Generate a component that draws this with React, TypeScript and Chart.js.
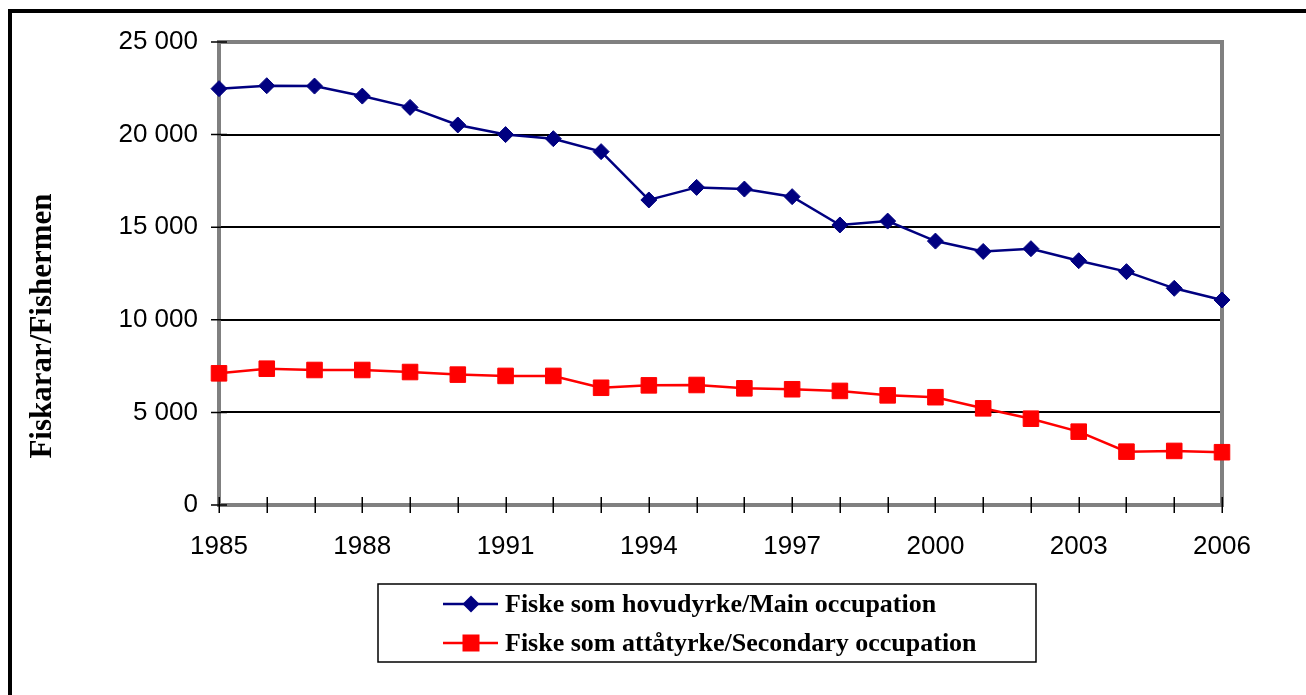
import React, { useEffect, useRef } from 'react';
import { Chart, registerables } from 'chart.js';

Chart.register(...registerables);

const years = [
  '1985', '1986', '1987', '1988', '1989', '1990', '1991', '1992', '1993', '1994', '1995',
  '1996', '1997', '1998', '1999', '2000', '2001', '2002', '2003', '2004', '2005', '2006',
];
const mainOccupation = [
  22480, 22640, 22620, 22080, 21470, 20520, 20000, 19780, 19080, 16470, 17150,
  17060, 16650, 15120, 15330, 14250, 13690, 13840, 13190, 12600, 11700, 11070,
];
const secondaryOccupation = [
  7110, 7360, 7290, 7290, 7180, 7040, 6970, 6970, 6330, 6460, 6480,
  6300, 6250, 6160, 5920, 5820, 5220, 4660, 3960, 2880, 2920, 2850,
];
const shownYearLabels = ['1985', '1988', '1991', '1994', '1997', '2000', '2003', '2006'];
const yMin = 0;
const yMax = 25000;
const yStep = 5000;
const seriesLabels = [
  'Fiske som hovudyrke/Main occupation',
  'Fiske som attåtyrke/Secondary occupation',
];
const yAxisTitle = 'Fiskarar/Fishermen';

const BLUE = '#000080';
const RED = '#FF0000';
const SANS = '"Liberation Sans", Arial, sans-serif';
const SERIF = '"Liberation Serif", "Times New Roman", serif';

const fmt = (v: number) => String(v).replace(/\B(?=(\d{3})+(?!\d))/g, ' ');

function drawDiamond(ctx: CanvasRenderingContext2D, x: number, y: number, r: number, color: string) {
  ctx.beginPath();
  ctx.moveTo(x, y - r);
  ctx.lineTo(x + r, y);
  ctx.lineTo(x, y + r);
  ctx.lineTo(x - r, y);
  ctx.closePath();
  ctx.fillStyle = color;
  ctx.fill();
}

function drawSquare(ctx: CanvasRenderingContext2D, x: number, y: number, s: number, color: string) {
  ctx.fillStyle = color;
  ctx.fillRect(x - s / 2, y - s / 2, s, s);
}

const framePlugin = {
  id: 'frame',
  beforeDatasetsDraw(chart: any) {
    const { ctx, chartArea: a, scales } = chart;
    ctx.save();
    ctx.strokeStyle = '#808080';
    ctx.lineWidth = 4;
    ctx.strokeRect(a.left, a.top, a.right - a.left, a.bottom - a.top);
    ctx.strokeStyle = '#000';
    ctx.lineWidth = 1.5;
    ctx.beginPath();
    const xs = scales.x;
    const ys = scales.y;
    xs.ticks.forEach((_t: any, i: number) => {
      const px = Math.round(xs.getPixelForTick(i)) + 0.25;
      ctx.moveTo(px, a.bottom - 8);
      ctx.lineTo(px, a.bottom + 8);
    });
    ys.ticks.forEach((_t: any, i: number) => {
      const py = ys.getPixelForTick(i);
      ctx.moveTo(a.left - 8, py);
      ctx.lineTo(a.left + 8, py);
    });
    ctx.stroke();
    ctx.restore();
  },
  afterDraw(chart: any) {
    const { ctx } = chart;
    ctx.save();
    // outer frame
    ctx.strokeStyle = '#000';
    ctx.lineWidth = 4;
    ctx.strokeRect(10, 11, 3000, 3000);

    // y axis title
    ctx.save();
    ctx.translate(43, 326);
    ctx.rotate(-Math.PI / 2);
    ctx.font = `bold 31px ${SERIF}`;
    ctx.fillStyle = '#000';
    ctx.textAlign = 'center';
    ctx.textBaseline = 'middle';
    ctx.fillText(yAxisTitle, 0, 0);
    ctx.restore();

    // legend
    ctx.strokeStyle = '#000';
    ctx.lineWidth = 1.5;
    ctx.strokeRect(378, 584, 658, 78);
    const rows = [
      { y: 604, color: BLUE, label: seriesLabels[0], kind: 'diamond' },
      { y: 643, color: RED, label: seriesLabels[1], kind: 'square' },
    ];
    ctx.font = `bold 26px ${SERIF}`;
    ctx.textBaseline = 'middle';
    ctx.textAlign = 'left';
    rows.forEach((r) => {
      ctx.strokeStyle = r.color;
      ctx.lineWidth = 2.5;
      ctx.beginPath();
      ctx.moveTo(443, r.y);
      ctx.lineTo(498, r.y);
      ctx.stroke();
      if (r.kind === 'diamond') drawDiamond(ctx, 471, r.y, 8.5, r.color);
      else drawSquare(ctx, 471, r.y, 17, r.color);
      ctx.fillStyle = '#000';
      ctx.fillText(r.label, 505, r.y + 1);
    });
    ctx.restore();
  },
};

export default function App() {
  const canvasRef = useRef<HTMLCanvasElement | null>(null);

  useEffect(() => {
    if (!canvasRef.current) return;
    const chart = new Chart(canvasRef.current, {
      type: 'line',
      data: {
        labels: years,
        datasets: [
          {
            label: seriesLabels[0],
            data: mainOccupation,
            borderColor: BLUE,
            backgroundColor: BLUE,
            borderWidth: 2.5,
            pointStyle: 'rectRot',
            pointRadius: 8,
            pointBorderWidth: 1,
            pointBackgroundColor: BLUE,
            pointBorderColor: BLUE,
            tension: 0,
          },
          {
            label: seriesLabels[1],
            data: secondaryOccupation,
            borderColor: RED,
            backgroundColor: RED,
            borderWidth: 2.5,
            pointStyle: 'rect',
            pointRadius: 11,
            pointBorderWidth: 1,
            pointBackgroundColor: RED,
            pointBorderColor: RED,
            tension: 0,
          },
        ],
      },
      options: {
        animation: false,
        responsive: true,
        maintainAspectRatio: false,
        layout: { padding: { top: 42, right: 84, left: 0, bottom: 0 } },
        plugins: {
          legend: { display: false },
          tooltip: { enabled: false },
        },
        scales: {
          x: {
            type: 'category',
            offset: false,
            grid: { display: false },
            border: { display: false },
            ticks: {
              autoSkip: false,
              maxRotation: 0,
              padding: 18,
              color: '#000',
              font: { family: SANS, size: 26 },
              callback: function (this: any, _v: any, i: number) {
                const y = years[i];
                return shownYearLabels.includes(y) ? y : '';
              },
            },
            afterFit: (s: any) => {
              s.height = 190;
            },
          },
          y: {
            min: yMin,
            max: yMax,
            grid: { color: '#000', lineWidth: 2, drawTicks: false },
            border: { display: false },
            ticks: {
              stepSize: yStep,
              padding: 21,
              color: '#000',
              font: { family: SANS, size: 26 },
              callback: (v: any) => fmt(Number(v)),
            },
            afterFit: (s: any) => {
              s.width = 219;
            },
          },
        },
      },
      plugins: [framePlugin],
    });
    return () => chart.destroy();
  }, []);

  return (
    <div style={{ position: 'fixed', left: 0, top: 0, width: 1306, height: 695, background: '#fff' }}>
      <canvas ref={canvasRef} />
    </div>
  );
}
